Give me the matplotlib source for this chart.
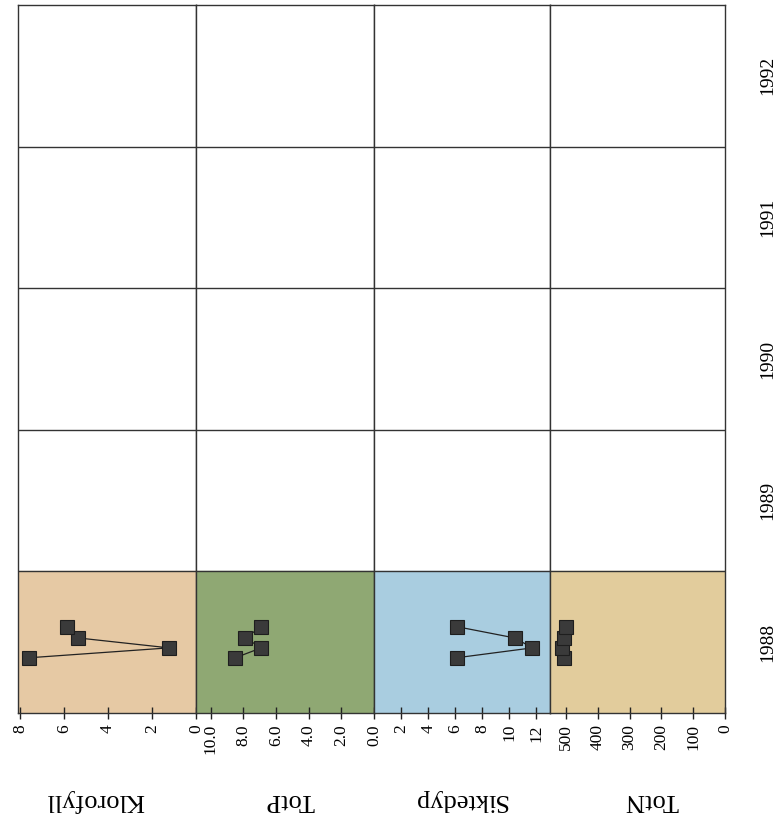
import matplotlib
matplotlib.use("Agg")
import matplotlib.pyplot as plt
import numpy as np

# ---- data ----
variables = ["Klorofyll", "TotP", "Siktedyp", "TotN"]
years = [1988, 1989, 1990, 1991, 1992]
year_labels = ["1988", "1989", "1990", "1991", "1992"]

# sampling dates 1988 (decimal years)
dates_1988 = [1988.39, 1988.46, 1988.53, 1988.61]
klorofyll = [7.6, 1.23, 5.36, 5.86]
totp = [8.5, 6.9, 7.88, 6.9]
siktedyp = [6.1, 11.7, 10.4, 6.1]
totn = [506, 512, 506, 500]

series = [klorofyll, totp, siktedyp, totn]
xlims = [(8.1, 0), (10.9, 0), (0, 13.0), (550, 0)]
xticks = [[8, 6, 4, 2, 0],
          [10, 8, 6, 4, 2, 0],
          [2, 4, 6, 8, 10, 12],
          [500, 400, 300, 200, 100, 0]]
xticklabels = [["8", "6", "4", "2", "0"],
               ["10.0", "8.0", "6.0", "4.0", "2.0", "0.0"],
               ["2", "4", "6", "8", "10", "12"],
               ["500", "400", "300", "200", "100", "0"]]
bg_colors = ["#e6c9a4", "#8fa873", "#a9cde0", "#e2cc9c"]

# ---- layout ----
W, H = 777, 822
fig = plt.figure(figsize=(W / 100, H / 100), dpi=100)
serif = ["Liberation Serif", "DejaVu Serif"]

col_edges = [18, 196, 374, 550, 725]
top_px, bot_px = 5, 713
label_x = [95, 290, 460, 652]

for i, var in enumerate(variables):
    l = col_edges[i] / W
    w = (col_edges[i + 1] - col_edges[i]) / W
    b = 1 - bot_px / H
    h = (bot_px - top_px) / H
    ax = fig.add_axes([l, b, w, h])
    ax.set_ylim(years[0], years[-1] + 1)
    ax.set_xlim(*xlims[i])
    ax.axhspan(years[0], years[0] + 1, color=bg_colors[i], zorder=0)
    for y in years[1:]:
        ax.axhline(y, color="#333333", lw=1.0, zorder=1)
    ax.plot(series[i], dates_1988, color="#222222", lw=0.9, zorder=2)
    ax.plot(series[i], dates_1988, ls="none", marker="s", ms=10,
            mfc="#3a3a3a", mec="#1e1e1e", mew=0.8, zorder=3)
    ax.set_xticks(xticks[i])
    ax.set_xticklabels(xticklabels[i], rotation=90, fontfamily=serif, fontsize=12.5)
    ax.tick_params(axis="x", direction="inout", length=8, width=1.0,
                   color="#222222", pad=4)
    for s in ax.spines.values():
        s.set_color("#333333")
        s.set_linewidth(1.0)
    if i < len(variables) - 1:
        ax.set_yticks([])
    else:
        ax.set_yticks([y + 0.5 for y in years])
        ax.set_yticklabels(year_labels, rotation=90, fontfamily=serif, fontsize=14,
                           va="center")
        ax.tick_params(axis="y", left=False, right=False, labelleft=False,
                       labelright=True, pad=21)
    fig.text(label_x[i] / W, 1 - 800 / H, var, rotation=180, ha="center",
             va="center", fontfamily=serif, fontsize=19)

fig.savefig("out.png", dpi=100)
